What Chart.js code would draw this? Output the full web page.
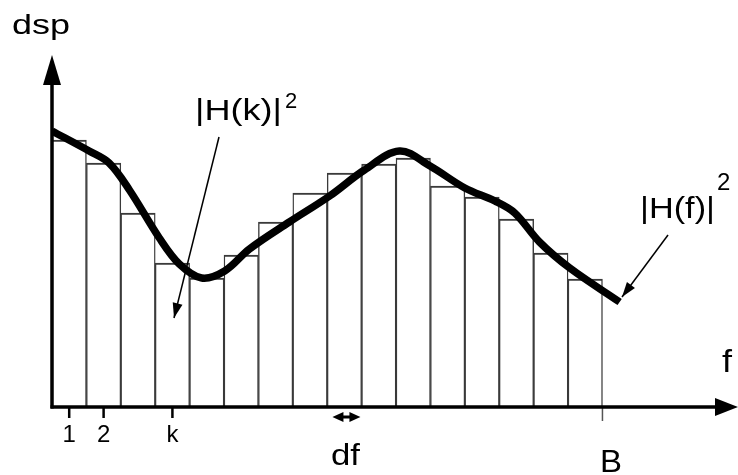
<!DOCTYPE html>
<html>
<head>
<meta charset="utf-8">
<script src="https://cdn.jsdelivr.net/npm/chart.js@4"></script>
<style>
  html, body { margin: 0; padding: 0; background: #fff; }
  #wrap { width: 738px; height: 475px; }
</style>
</head>
<body>
<div id="wrap"><canvas id="dsp"></canvas></div>
<script>
// frequency bins (centre of bin k, in units of df) and the power in each bin
const binCentre = [0.5, 1.5, 2.5, 3.5, 4.5, 5.5, 6.5, 7.5, 8.5, 9.5, 10.5, 11.5, 12.5, 13.5, 14.5, 15.5];
const binPower = [26.7, 24.4, 19.4, 14.4, 12.9, 15.2, 18.5, 21.4, 23.4, 24.3, 24.9, 22.1, 21.0, 18.8, 15.4, 12.8];

// continuous response |H(f)|^2
const curveF = [0, 1.08, 1.66, 2.25, 3.12, 3.7, 4.35, 5.02, 5.74, 6.9, 8.07, 9.08, 10.1, 10.99, 12.0, 12.87, 13.45, 14.17, 15.05, 16.5];
const curveH = [27.6, 25.6, 24.4, 21.7, 16.9, 14.3, 12.9, 13.6, 15.8, 18.5, 21.1, 23.7, 25.6, 24.1, 21.9, 20.6, 19.4, 16.5, 13.9, 10.5];

// marked ticks under the axis
const tickPos = [0.5, 1.5, 3.5];
const tickLabels = ["1", "2", "k"];
const dfBin = 8.5;
const bandEdge = 16;

const FONT = '"Liberation Sans", Arial, sans-serif';

function putText(ctx, str, x, base, size, width) {
	ctx.font = size + "px " + FONT;
	const w = ctx.measureText(str).width;
	ctx.save();
	ctx.translate(x, base);
	ctx.scale(width ? width / w : 1, 1);
	ctx.fillText(str, 0, 0);
	ctx.restore();
}

function arrowHead(ctx, tipX, tipY, fromX, fromY, len, half) {
	const a = Math.atan2(tipY - fromY, tipX - fromX);
	ctx.beginPath();
	ctx.moveTo(tipX, tipY);
	ctx.lineTo(tipX - len * Math.cos(a) + half * Math.sin(a), tipY - len * Math.sin(a) - half * Math.cos(a));
	ctx.lineTo(tipX - len * Math.cos(a) - half * Math.sin(a), tipY - len * Math.sin(a) + half * Math.cos(a));
	ctx.closePath();
	ctx.fill();
}

function pointer(ctx, x1, y1, x2, y2) {
	ctx.lineWidth = 1.5;
	ctx.beginPath();
	ctx.moveTo(x1, y1);
	ctx.lineTo(x2, y2);
	ctx.stroke();
	arrowHead(ctx, x2, y2, x1, y1, 15, 5);
}

const sketchAxes = {
	id: "sketchAxes",
	afterDatasetsDraw(chart) {
		const ctx = chart.ctx;
		const area = chart.chartArea;
		const x = chart.scales.x, y = chart.scales.y;
		const x0 = x.getPixelForValue(0), y0 = y.getPixelForValue(0);
		ctx.save();
		ctx.strokeStyle = "#000";
		ctx.fillStyle = "#000";

		// band limit B
		const xb = x.getPixelForValue(bandEdge);
		ctx.strokeStyle = "#555";
		ctx.lineWidth = 1.5;
		ctx.beginPath();
		ctx.moveTo(xb, y0);
		ctx.lineTo(xb, y0 + 14);
		ctx.stroke();
		ctx.strokeStyle = "#000";

		// f axis
		ctx.lineWidth = 3.5;
		ctx.beginPath();
		ctx.moveTo(x0 - 1.5, y0);
		ctx.lineTo(area.right - 20, y0);
		ctx.stroke();
		ctx.beginPath();
		ctx.moveTo(area.right, y0);
		ctx.lineTo(area.right - 23, y0 - 9);
		ctx.lineTo(area.right - 23, y0 + 9);
		ctx.closePath();
		ctx.fill();

		// dsp axis
		ctx.beginPath();
		ctx.moveTo(x0, y0 + 1.5);
		ctx.lineTo(x0, area.top + 28);
		ctx.stroke();
		ctx.beginPath();
		ctx.moveTo(x0, area.top);
		ctx.lineTo(x0 - 9, area.top + 30);
		ctx.lineTo(x0 + 9, area.top + 30);
		ctx.closePath();
		ctx.fill();

		// bin ticks
		ctx.lineWidth = 2.5;
		ctx.textAlign = "center";
		tickPos.forEach((v, i) => {
			const px = x.getPixelForValue(v);
			ctx.beginPath();
			ctx.moveTo(px, y0);
			ctx.lineTo(px, y0 + 11);
			ctx.stroke();
			ctx.font = "24px " + FONT;
			ctx.fillText(tickLabels[i], px, y0 + 35);
		});
		ctx.textAlign = "left";

		// df marker
		const xd = x.getPixelForValue(dfBin) + 2;
		ctx.lineWidth = 3;
		ctx.beginPath();
		ctx.moveTo(xd - 8, y0 + 10);
		ctx.lineTo(xd + 8, y0 + 10);
		ctx.stroke();
		arrowHead(ctx, xd - 14, y0 + 10, xd, y0 + 10, 11, 5);
		arrowHead(ctx, xd + 14, y0 + 10, xd, y0 + 10, 11, 5);

		// labels
		putText(ctx, "dsp", 12, 34, 28, 58);
		putText(ctx, "f", 722, 372, 32, 10);
		putText(ctx, "df", 331, 465, 30, 29);
		putText(ctx, "B", 600, 472, 32, 22);
		putText(ctx, "|H(k)|", 195, 120, 30, 87);
		putText(ctx, "2", 285, 108, 22);
		putText(ctx, "|H(f)|", 640, 218, 30, 75);
		putText(ctx, "2", 717, 190, 24);

		// pointers
		pointer(ctx, 219, 137, 174, 318);
		pointer(ctx, 668, 235, 622, 297);
		ctx.restore();
	}
};

new Chart(document.getElementById("dsp"), {
	type: "bar",
	data: {
		datasets: [
			{
				type: "line",
				order: 0,
				data: curveF.map((f, i) => ({x: f, y: curveH[i]})),
				borderColor: "#000",
				borderWidth: 7.5,
				tension: 0.35,
				pointRadius: 0,
				fill: false
			},
			{
				type: "bar",
				order: 1,
				data: binCentre.map((f, i) => ({x: f, y: binPower[i]})),
				backgroundColor: "#fff",
				borderColor: "#3a3a3a",
				borderWidth: {left: 1.4, right: 1.4, top: 2, bottom: 0},
				borderSkipped: "bottom",
				barPercentage: 1,
				categoryPercentage: 1
			}
		]
	},
	options: {
		responsive: true,
		maintainAspectRatio: false,
		animation: false,
		layout: {autoPadding: false, padding: {left: 52, right: 0, top: 55, bottom: 68}},
		plugins: {legend: {display: false}, tooltip: {enabled: false}},
		scales: {
			x: {type: "linear", min: 0, max: 19.94, offset: false, display: false, ticks: {stepSize: 1}},
			y: {min: 0, max: 35.2, display: false}
		}
	},
	plugins: [sketchAxes]
});
</script>
</body>
</html>
